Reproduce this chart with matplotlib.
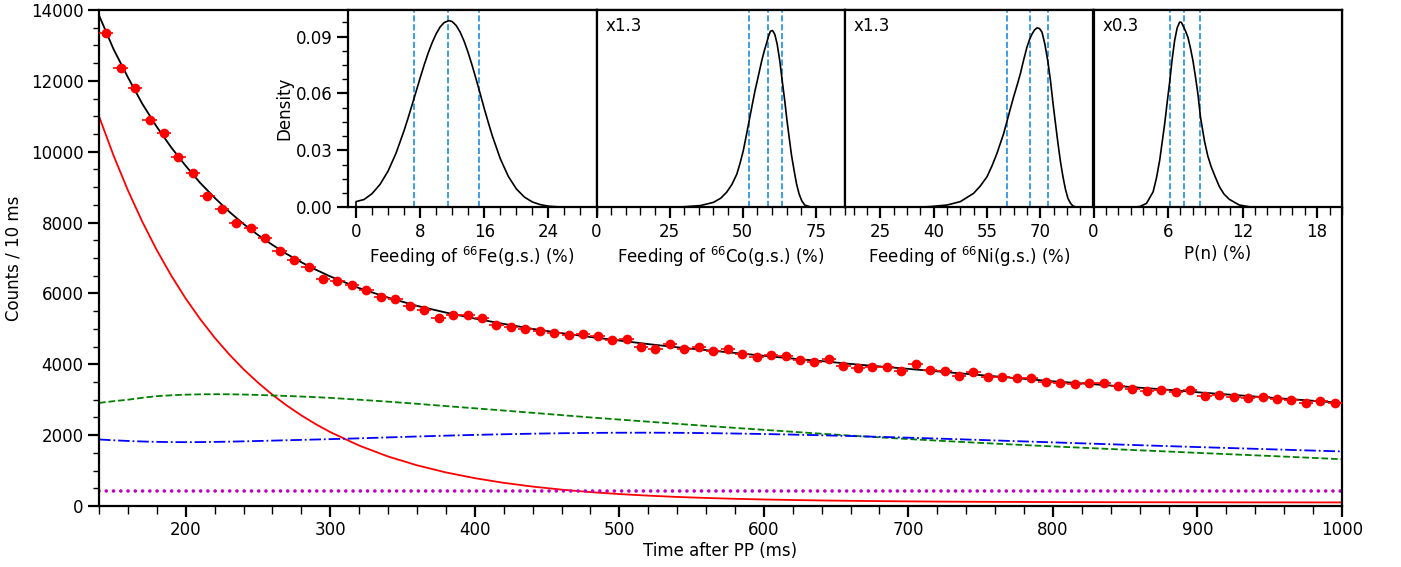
import matplotlib.pyplot as plt
from matplotlib.ticker import MultipleLocator, FixedLocator, FormatStrFormatter

plt.rcParams['font.family'] = 'DejaVu Sans'
plt.rcParams['font.size'] = 12

# --- decay curve data (bin centres in ms, counts per 10 ms) ---
time_ms = [145, 155, 165, 175, 185, 195, 205, 215, 225, 235,
           245, 255, 265, 275, 285, 295, 305, 315, 325, 335,
           345, 355, 365, 375, 385, 395, 405, 415, 425, 435,
           445, 455, 465, 475, 485, 495, 505, 515, 525, 535,
           545, 555, 565, 575, 585, 595, 605, 615, 625, 635,
           645, 655, 665, 675, 685, 695, 705, 715, 725, 735,
           745, 755, 765, 775, 785, 795, 805, 815, 825, 835,
           845, 855, 865, 875, 885, 895, 905, 915, 925, 935,
           945, 955, 965, 975, 985, 995]
counts = [13350, 12375, 11794, 10893, 10517, 9841, 9390, 8757, 8376, 8000,
          7835, 7559, 7207, 6935, 6738, 6409, 6352, 6235, 6085, 5897,
          5851, 5634, 5541, 5305, 5381, 5400, 5305, 5110, 5062, 5006,
          4930, 4893, 4817, 4854, 4808, 4696, 4713, 4499, 4443, 4584,
          4432, 4499, 4376, 4423, 4290, 4217, 4273, 4245, 4122, 4056,
          4150, 3952, 3896, 3924, 3924, 3822, 4019, 3850, 3822, 3681,
          3775, 3643, 3643, 3624, 3606, 3502, 3465, 3437, 3484, 3484,
          3399, 3296, 3259, 3268, 3230, 3287, 3118, 3136, 3080, 3042,
          3071, 3023, 2986, 2902, 2967, 2902]
bin_half_width = 5

# --- fit curves ---
fit_t = [140, 150, 160, 170, 180, 190, 200, 210, 220, 230, 240, 250, 260, 270, 280, 290, 300,
         320, 340, 360, 380, 400, 420, 440, 460, 480, 500, 520, 540, 560, 580, 600, 620, 640,
         660, 680, 700, 720, 740, 760, 780, 800, 820, 840, 860, 880, 900, 920, 940, 960, 980, 1000]
fit_total = [13850, 12900, 12100, 11350, 10700, 10120, 9600, 9120, 8700, 8310, 7960, 7650, 7370,
             7110, 6880, 6670, 6480,
             6150, 5880, 5650, 5460, 5290, 5140, 5000, 4880, 4770, 4670, 4570, 4480, 4400, 4320,
             4240, 4160, 4090, 4010, 3940, 3870, 3800, 3730, 3660, 3590, 3520, 3460, 3400, 3340,
             3280, 3210, 3150, 3090, 3030, 2970, 2910]
fit_mn = [11000, 9899, 8910, 8021, 7221, 6502, 5855, 5276, 4752, 4283, 3861, 3482, 3139, 2834,
          2557, 2309, 2086,
          1706, 1397, 1149, 948, 786, 654, 548, 462, 392, 337, 292, 256, 227, 203, 184, 169, 156,
          146, 138, 131, 125, 120, 117, 114, 111, 109, 107, 106, 105, 104, 103, 102, 102, 101, 101]
fit_fe = [2910, 2958, 3000, 3055, 3100, 3125, 3143, 3152, 3155, 3153, 3146, 3135, 3120, 3106,
          3090, 3072, 3052,
          3000, 2945, 2885, 2820, 2758, 2695, 2630, 2565, 2500, 2440, 2380, 2320, 2262, 2205,
          2150, 2095, 2040, 1988, 1938, 1890, 1845, 1802, 1760, 1720, 1682, 1645, 1608, 1572,
          1537, 1500, 1465, 1430, 1395, 1358, 1320]
fit_co = [1878, 1855, 1836, 1821, 1810, 1804, 1802, 1804, 1809, 1816, 1825, 1835, 1845, 1856,
          1866, 1877, 1887,
          1910, 1936, 1962, 1986, 2007, 2025, 2041, 2054, 2063, 2068, 2069, 2066, 2058, 2046,
          2032, 2015, 1996, 1975, 1952, 1928, 1903, 1877, 1850, 1823, 1796, 1769, 1742, 1716,
          1690, 1664, 1639, 1614, 1589, 1564, 1540]
bkg_t = [140, 1000]
bkg = [410, 410]

# --- posterior densities for the insets ---
fe_x = [0, 0, 1, 2, 3, 4, 5, 6, 6.5, 7, 7.5, 8, 8.5, 9, 9.5, 10, 10.5, 11, 11.6, 12,
        12.5, 13, 13.5, 14, 14.5, 15, 15.5, 16, 16.5, 17, 18, 19, 20, 21, 22, 23, 24, 25, 26]
fe_d = [0, 0.003, 0.0041, 0.0072, 0.0121, 0.0191, 0.0286, 0.0405, 0.0471, 0.0541,
        0.0611, 0.0682, 0.0750, 0.0813, 0.0868, 0.0915, 0.0951, 0.0974, 0.0984, 0.0979,
        0.0958, 0.0923, 0.0874, 0.0814, 0.0746, 0.0673, 0.0597, 0.0520, 0.0447, 0.0377,
        0.0256, 0.0163, 0.0097, 0.0054, 0.0028, 0.0014, 0.0006, 0.0003, 0.0001]
fe_lines = [7.26, 11.45, 15.4]

co_x = [25, 30, 35.5, 40, 42.5, 44.5, 46.3, 48, 49.1, 50.2, 51.2, 52.2, 53.2, 54.2, 55.4,
        56.5, 57.3, 58.2, 58.9, 59.5, 60.2, 61.0, 61.8, 62.7, 63.5, 64.4, 65.1, 65.9, 66.7,
        67.6, 68.4, 69.3, 70.2, 71.2, 73, 75]
co_d = [0, 0.0003, 0.0009, 0.0026, 0.0048, 0.0079, 0.0120, 0.0175, 0.0232, 0.0298,
        0.0375, 0.0455, 0.0535, 0.0613, 0.0695, 0.0771, 0.0820, 0.0867, 0.0905, 0.0928,
        0.0932, 0.0911, 0.0860, 0.0771, 0.0670, 0.0560, 0.0465, 0.0368, 0.0275, 0.0193,
        0.0125, 0.0070, 0.0035, 0.0012, 0.0003, 0]
co_lines = [52.2, 58.5, 63.6]

ni_x = [35, 39.1, 43.75, 47.5, 51.25, 53.1, 55, 56.4, 57.8, 59.7, 60.7, 61.6, 62.5, 63.5,
        64.4, 65.3, 66.25, 67.0, 67.7, 68.4, 69.1, 69.8, 70.5, 71.3, 72.1, 72.9, 73.6, 74.3,
        75.0, 75.7, 76.4, 77.1, 77.8, 78.5, 79.2, 80.3, 82]
ni_d = [0, 0.0004, 0.0012, 0.0030, 0.0074, 0.0112, 0.0161, 0.0218, 0.0284, 0.0389,
        0.0459, 0.0521, 0.0582, 0.0645, 0.0704, 0.0775, 0.0844, 0.0885, 0.0914, 0.0935,
        0.0946, 0.0942, 0.0923, 0.0860, 0.0774, 0.0665, 0.0547, 0.0440, 0.0336, 0.0240,
        0.0161, 0.0095, 0.0047, 0.0022, 0.0007, 0, 0]
ni_lines = [60.7, 67.2, 72.1]

pn_x = [2.0, 2.93, 3.73, 4.27, 4.8, 5.07, 5.33, 5.53, 5.73, 5.93, 6.13, 6.33, 6.53, 6.73,
        6.93, 7.07, 7.2, 7.4, 7.6, 7.8, 8.0, 8.2, 8.4, 8.61, 8.93, 9.2, 9.47, 9.8, 10.13,
        10.5, 10.93, 11.73, 12.8, 14]
pn_d = [0, 0, 0.0004, 0.0021, 0.0082, 0.0155, 0.0249, 0.0345, 0.0441, 0.0553,
        0.0660, 0.0780, 0.0879, 0.0945, 0.0976, 0.0975, 0.0958, 0.0930, 0.0896, 0.0840,
        0.0774, 0.0690, 0.0599, 0.0476, 0.0350, 0.0270, 0.0214, 0.0160, 0.0109, 0.0070,
        0.0042, 0.0012, 0, 0]
pn_lines = [6.13, 7.28, 8.61]

fig = plt.figure(figsize=(14.01, 5.67), dpi=100)
W, H = 1401.0, 567.0

# main panel
ax = fig.add_axes([99 / W, 1 - 506 / H, (1342 - 99) / W, 496 / H])
ax.plot(fit_t, fit_total, color='black', lw=1.3, zorder=2)
ax.plot(fit_t, fit_mn, color='red', lw=1.3, zorder=2)
ax.plot(fit_t, fit_fe, color='green', ls='--', lw=1.3, zorder=2)
ax.plot(fit_t, fit_co, color='blue', ls='-.', lw=1.3, zorder=2)
ax.plot(bkg_t, bkg, color='m', lw=2.6, ls=(0, (0.01, 2.0)), dash_capstyle='round', zorder=2)
ax.errorbar(time_ms, counts, xerr=bin_half_width, fmt='o', color='red', ms=6,
            elinewidth=1.2, capsize=0, zorder=3)

ax.set_xlim(140, 1000)
ax.set_ylim(0, 14000)
ax.xaxis.set_major_locator(MultipleLocator(100))
ax.xaxis.set_minor_locator(MultipleLocator(20))
ax.yaxis.set_major_locator(MultipleLocator(2000))
ax.yaxis.set_minor_locator(MultipleLocator(500))
ax.tick_params(which='major', direction='out', length=8, width=1.6, pad=3)
ax.tick_params(axis='x', which='minor', direction='out', length=6, width=1.0)
ax.tick_params(axis='y', which='minor', direction='out', length=4, width=1.0)
for s in ax.spines.values():
    s.set_linewidth(1.6)
ax.set_xlabel('Time after PP (ms)', labelpad=2)
ax.set_ylabel('Counts / 10 ms', labelpad=6)

# insets
panels = [
    (fe_x, fe_d, fe_lines, (-1, 30), [0, 8, 16, 24], 2, r'Feeding of $^{66}$Fe(g.s.) (%)', None),
    (co_x, co_d, co_lines, (0, 85), [0, 25, 50, 75], 5, r'Feeding of $^{66}$Co(g.s.) (%)', 'x1.3'),
    (ni_x, ni_d, ni_lines, (15, 85), [25, 40, 55, 70], 3.75, r'Feeding of $^{66}$Ni(g.s.) (%)', 'x1.3'),
    (pn_x, pn_d, pn_lines, (0, 20), [0, 6, 12, 18], 1, 'P(n) (%)', 'x0.3'),
]
pw = 248.5
for i, (xs, ds, vl, xl, ticks, minor, label, note) in enumerate(panels):
    a = fig.add_axes([(348 + i * pw) / W, 1 - 207.3 / H, pw / W, 197.3 / H])
    a.set_facecolor('white')
    for v in vl:
        a.axvline(v, color='#1a8fe3', ls='--', lw=1.2)
    a.plot(xs, ds, color='black', lw=1.2, solid_joinstyle='round')
    a.set_xlim(*xl)
    a.set_ylim(0, 0.104)
    a.xaxis.set_major_locator(FixedLocator(ticks))
    if minor == 3.75:
        a.xaxis.set_minor_locator(FixedLocator([17.5 + 3.75 * k for k in range(18)]))
    else:
        a.xaxis.set_minor_locator(MultipleLocator(minor))
    a.tick_params(axis='x', which='major', direction='out', length=8, width=1.6, pad=3)
    a.tick_params(axis='x', which='minor', direction='out', length=5.5, width=1.0)
    a.set_xlabel(label, labelpad=3)
    for s in a.spines.values():
        s.set_linewidth(1.6)
    if i == 0:
        a.yaxis.set_major_locator(MultipleLocator(0.03))
        a.yaxis.set_minor_locator(MultipleLocator(0.0075))
        a.yaxis.set_major_formatter(FormatStrFormatter('%.2f'))
        a.tick_params(axis='y', which='major', direction='out', length=8, width=1.6, pad=3)
        a.tick_params(axis='y', which='minor', direction='out', length=4.5, width=1.0)
        a.set_ylabel('Density', labelpad=2)
    else:
        a.tick_params(axis='y', which='both', left=False, labelleft=False)
    if note:
        a.text(0.035, 0.965, note, transform=a.transAxes, ha='left', va='top')

plt.savefig('out.png', dpi=100)
